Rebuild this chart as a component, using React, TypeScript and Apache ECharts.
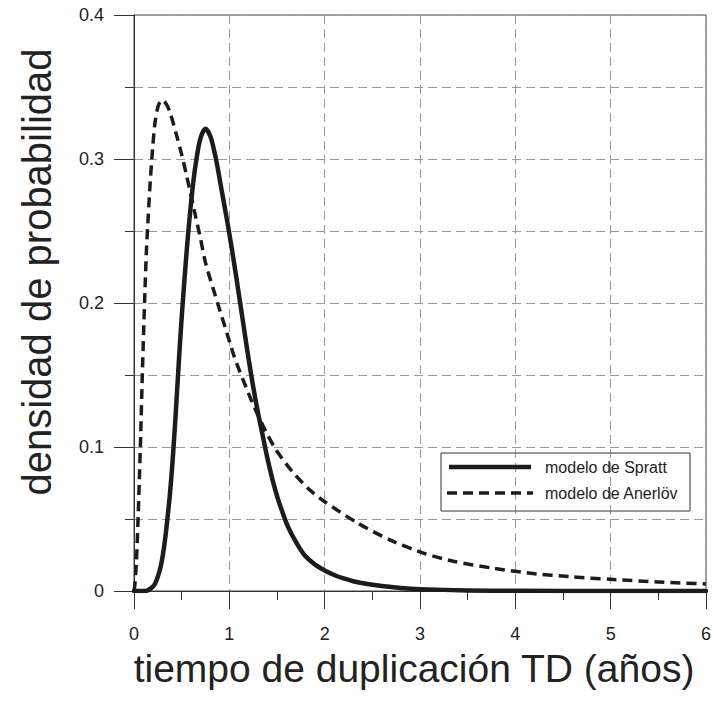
import React, { useEffect, useRef } from "react";
import * as echarts from "echarts";

// Spratt model (solid line): [tiempo, densidad]
const sprattData: [number, number][] = [
  [0, 0], [0.12, 0], [0.18, 0.002], [0.22, 0.005], [0.25, 0.01], [0.28, 0.017],
  [0.305, 0.026], [0.33, 0.038], [0.35, 0.05], [0.375, 0.066], [0.4, 0.086],
  [0.43, 0.115], [0.46, 0.148], [0.49, 0.18], [0.52, 0.208], [0.55, 0.234],
  [0.58, 0.257], [0.62, 0.283], [0.66, 0.302], [0.7, 0.315], [0.75, 0.321],
  [0.8, 0.316], [0.84, 0.306], [0.88, 0.293], [0.92, 0.278], [0.98, 0.256],
  [1.04, 0.232], [1.1, 0.206], [1.15, 0.184], [1.2, 0.162], [1.25, 0.142],
  [1.3, 0.124], [1.35, 0.108], [1.4, 0.092], [1.45, 0.078], [1.5, 0.066],
  [1.55, 0.056], [1.6, 0.047], [1.65, 0.04], [1.7, 0.034], [1.75, 0.0285],
  [1.8, 0.024], [1.9, 0.0183], [2.0, 0.0142], [2.1, 0.0111], [2.2, 0.0087],
  [2.3, 0.0068], [2.45, 0.0048], [2.6, 0.0034], [2.8, 0.0021], [3.0, 0.0013],
  [3.5, 0.0004], [4.0, 0.0001], [5.0, 0], [6.0, 0],
];

// Anerlöv model (dashed line): [tiempo, densidad]
const anerlovData: [number, number][] = [
  [0, 0], [0.01, 0.005], [0.025, 0.02], [0.04, 0.045], [0.055, 0.075],
  [0.07, 0.108], [0.085, 0.145], [0.1, 0.178], [0.115, 0.208], [0.13, 0.236],
  [0.15, 0.261], [0.17, 0.284], [0.195, 0.307], [0.22, 0.325], [0.25, 0.336],
  [0.29, 0.341], [0.33, 0.339], [0.375, 0.333], [0.44, 0.318], [0.5, 0.303],
  [0.55, 0.289], [0.6, 0.274], [0.65, 0.259], [0.7, 0.244], [0.75, 0.228],
  [0.83, 0.21], [0.9, 0.195], [0.98, 0.178], [1.05, 0.163], [1.1, 0.154],
  [1.16, 0.144], [1.24, 0.131], [1.35, 0.115], [1.49, 0.098], [1.66, 0.083],
  [1.83, 0.071], [2.0, 0.062], [2.35, 0.047], [2.7, 0.035], [3.05, 0.026],
  [3.36, 0.0205], [3.75, 0.016], [4.16, 0.0123], [4.6, 0.0098], [5.0, 0.0081],
  [5.5, 0.0063], [6.0, 0.0049],
];

const seriesNames = ["modelo de Spratt", "modelo de Anerlöv"];
const xTitle = "tiempo de duplicación TD (años)";
const yTitle = "densidad de probabilidad";

const FONT = 'Arial, "Liberation Sans", Helvetica, sans-serif';
const INK = "#1c1c1c";

export default function App() {
  const ref = useRef<HTMLDivElement>(null);
  useEffect(() => {
    if (!ref.current) return;
    const chart = echarts.init(ref.current, undefined, { renderer: "svg" });
    const gridDash = { color: "#9a9a9a", width: 1, type: [9, 5] as number[] };
    chart.setOption({
      animation: false,
      backgroundColor: "#ffffff",
      grid: {
        left: 134,
        right: 4,
        top: 15,
        bottom: 111,
        show: true,
        borderColor: "#444",
        borderWidth: 1,
      },
      xAxis: {
        type: "value",
        min: 0,
        max: 6,
        interval: 1,
        axisLine: { show: true, onZero: false, lineStyle: { color: "#333", width: 1 } },
        axisTick: { show: true, length: 18, lineStyle: { color: "#333" } },
        minorTick: { show: true, splitNumber: 2, length: 9, lineStyle: { color: "#333" } },
        splitLine: { show: true, lineStyle: gridDash },
        minorSplitLine: { show: false },
        axisLabel: { margin: 34, fontSize: 18, color: "#222", fontFamily: FONT },
      },
      yAxis: {
        type: "value",
        min: 0,
        max: 0.4,
        interval: 0.1,
        axisLine: { show: true, lineStyle: { color: "#333", width: 1 } },
        axisTick: { show: true, length: 20, lineStyle: { color: "#333" } },
        minorTick: { show: true, splitNumber: 2, length: 9, lineStyle: { color: "#333" } },
        splitLine: { show: true, lineStyle: gridDash },
        minorSplitLine: { show: true, lineStyle: gridDash },
        axisLabel: { margin: 30, fontSize: 18, color: "#222", fontFamily: FONT },
      },
      graphic: [
        {
          type: "text",
          x: 37,
          y: 272,
          rotation: Math.PI / 2,
          style: {
            text: yTitle,
            fontSize: 40,
            fill: "#222",
            fontFamily: FONT,
            align: "center",
            verticalAlign: "middle",
          },
        },
        {
          type: "text",
          x: 414,
          y: 668,
          style: {
            text: xTitle,
            fontSize: 39,
            fill: "#222",
            fontFamily: FONT,
            align: "center",
            verticalAlign: "middle",
          },
        },
        {
          type: "rect",
          shape: { x: 441, y: 453, width: 249, height: 58 },
          style: { fill: "none", stroke: "#333", lineWidth: 1 },
          z: 100,
        },
        {
          type: "line",
          shape: { x1: 449, y1: 467, x2: 531, y2: 467 },
          style: { stroke: INK, lineWidth: 4.5 },
          z: 100,
        },
        {
          type: "line",
          shape: { x1: 447, y1: 493, x2: 533, y2: 493 },
          style: { stroke: INK, lineWidth: 3.5, lineDash: [10, 6] },
          z: 100,
        },
        {
          type: "text",
          x: 545,
          y: 467,
          style: {
            text: seriesNames[0],
            fontSize: 16,
            fill: "#222",
            fontFamily: FONT,
            verticalAlign: "middle",
          },
          z: 100,
        },
        {
          type: "text",
          x: 545,
          y: 493,
          style: {
            text: seriesNames[1],
            fontSize: 16,
            fill: "#222",
            fontFamily: FONT,
            verticalAlign: "middle",
          },
          z: 100,
        },
      ],
      series: [
        {
          name: seriesNames[0],
          type: "line",
          data: sprattData,
          showSymbol: false,
          smooth: 0.3,
          lineStyle: { color: INK, width: 4.5, type: "solid", cap: "round", join: "round" },
          z: 5,
        },
        {
          name: seriesNames[1],
          type: "line",
          data: anerlovData,
          showSymbol: false,
          smooth: 0.25,
          lineStyle: { color: INK, width: 3.5, type: [10, 6], join: "round" },
          z: 4,
        },
      ],
    });
    return () => chart.dispose();
  }, []);
  return (
    <div
      ref={ref}
      style={{ position: "absolute", left: 0, top: 0, width: 714, height: 702 }}
    />
  );
}
